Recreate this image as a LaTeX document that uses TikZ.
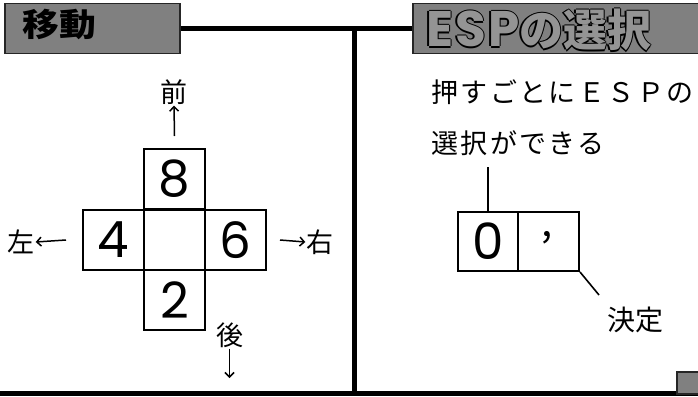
\documentclass[tikz,border=0pt]{standalone}
\usepackage{fontspec}
\setmainfont{Poppins}
\newfontfamily\jp{Noto Sans CJK JP}
\newfontfamily\jpsp[LetterSpace=9]{Noto Sans CJK JP}
\newfontfamily\latsp[LetterSpace=4]{Poppins}
\usetikzlibrary{arrows.meta}
\newcommand\olt[1]{\leavevmode
  \rlap{\kern-1.4pt#1}\rlap{\kern1.4pt#1}%
  \rlap{\raisebox{1.4pt}{#1}}\rlap{\raisebox{-1.4pt}{#1}}%
  \textcolor{black!42}{#1}}
\begin{document}
\begin{tikzpicture}[x=1pt,y=-1pt,
  cell/.style={draw,line width=2pt,minimum width=61pt,minimum height=60pt,inner sep=0pt,
    font=\fontsize{50}{50}\selectfont},
  titlebox/.style={draw=black!85,line width=1.5pt,fill=black!50,inner sep=0pt},
  heavy/.style={line width=5pt},
  thin/.style={line width=1.6pt},
  arr/.style={line width=1.5pt,-{Straight Barb[length=4.5pt,width=9pt]}},
  lab/.style={font=\jp\fontsize{27}{27}\selectfont,inner sep=1pt},
  rtxt/.style={font=\jpsp\fontsize{27}{27}\selectfont,inner sep=0pt,anchor=west}]
\useasboundingbox (0,0) rectangle (698,396);
\fill[white] (0,0) rectangle (698,396);

% title boxes
\node[titlebox,minimum width=175pt,minimum height=50pt] (titleL) at (92.5,28.5) {};
\node[titlebox,minimum width=290pt,minimum height=50pt] (titleR) at (558,28.5) {};
\node[font=\jp\bfseries\fontsize{32}{32}\selectfont,inner sep=0pt,xscale=1.15] (tL) at (59,25) {移動};
\node[inner sep=0pt,anchor=west] (tR) at (426,30)
  {\olt{\latsp\bfseries\fontsize{50}{50}\selectfont ESP}\olt{\jp\bfseries\fontsize{44}{44}\selectfont の選択}};

% frame lines
\coordinate (jt) at (354,29);
\coordinate (jb) at (354,393);
\coordinate (bl) at (0,393);
\coordinate (br) at (698,393);
\draw[heavy] (titleL.east) -- (titleR.west);
\draw[heavy] (jt) -- (jb);
\draw[heavy] (bl) -- (br);
\node[titlebox,minimum width=26pt,minimum height=22pt,anchor=north west] (corner) at (676,371) {};

% left panel: keypad
\node[cell] (c8) at (174.5,179) {8};
\node[cell] (c4) at (113.5,240) {4};
\node[cell] (c5) at (174.5,240) {};
\node[cell] (c6) at (235.5,240) {6};
\node[cell] (c2) at (174.5,300) {2};

\node[lab] (mae) at (174,92) {前};
\node[lab] (hidari) at (21,242) {左};
\node[lab] (migi) at (320,242) {右};
\node[lab] (ushiro) at (229.5,335) {後};
\coordinate (down) at (229.5,378);

\draw[arr] ([yshift=12pt]c8.north) -- (mae.south);
\draw[arr] ([xshift=-16pt]c4.west) -- (hidari.east);
\draw[arr] ([xshift=13pt]c6.east) -- (migi.west);
\draw[arr] (ushiro.south) -- (down);

% right panel
\node[rtxt] (t1) at (431,92) {押すごとにＥＳＰの};
\node[rtxt] (t2) at (431,143) {選択ができる};
\node[cell,minimum width=60pt,minimum height=59pt] (k0) at (488,241.5) {0};
\node[cell,minimum width=61pt,minimum height=59pt] (kc) at (548.5,241.5) {};
\node[font=\jp\fontsize{40}{40}\selectfont,inner sep=0pt] (comma) at (547,238) {,};
\coordinate (lineTop) at (488,167);
\coordinate (diagEnd) at (599,295);
\draw[thin] (k0.north) -- (lineTop);
\draw[thin] (kc.south east) -- (diagEnd);
\node[lab,font=\jp\fontsize{28}{28}\selectfont] (kettei) at (635,320) {決定};
\end{tikzpicture}
\end{document}
